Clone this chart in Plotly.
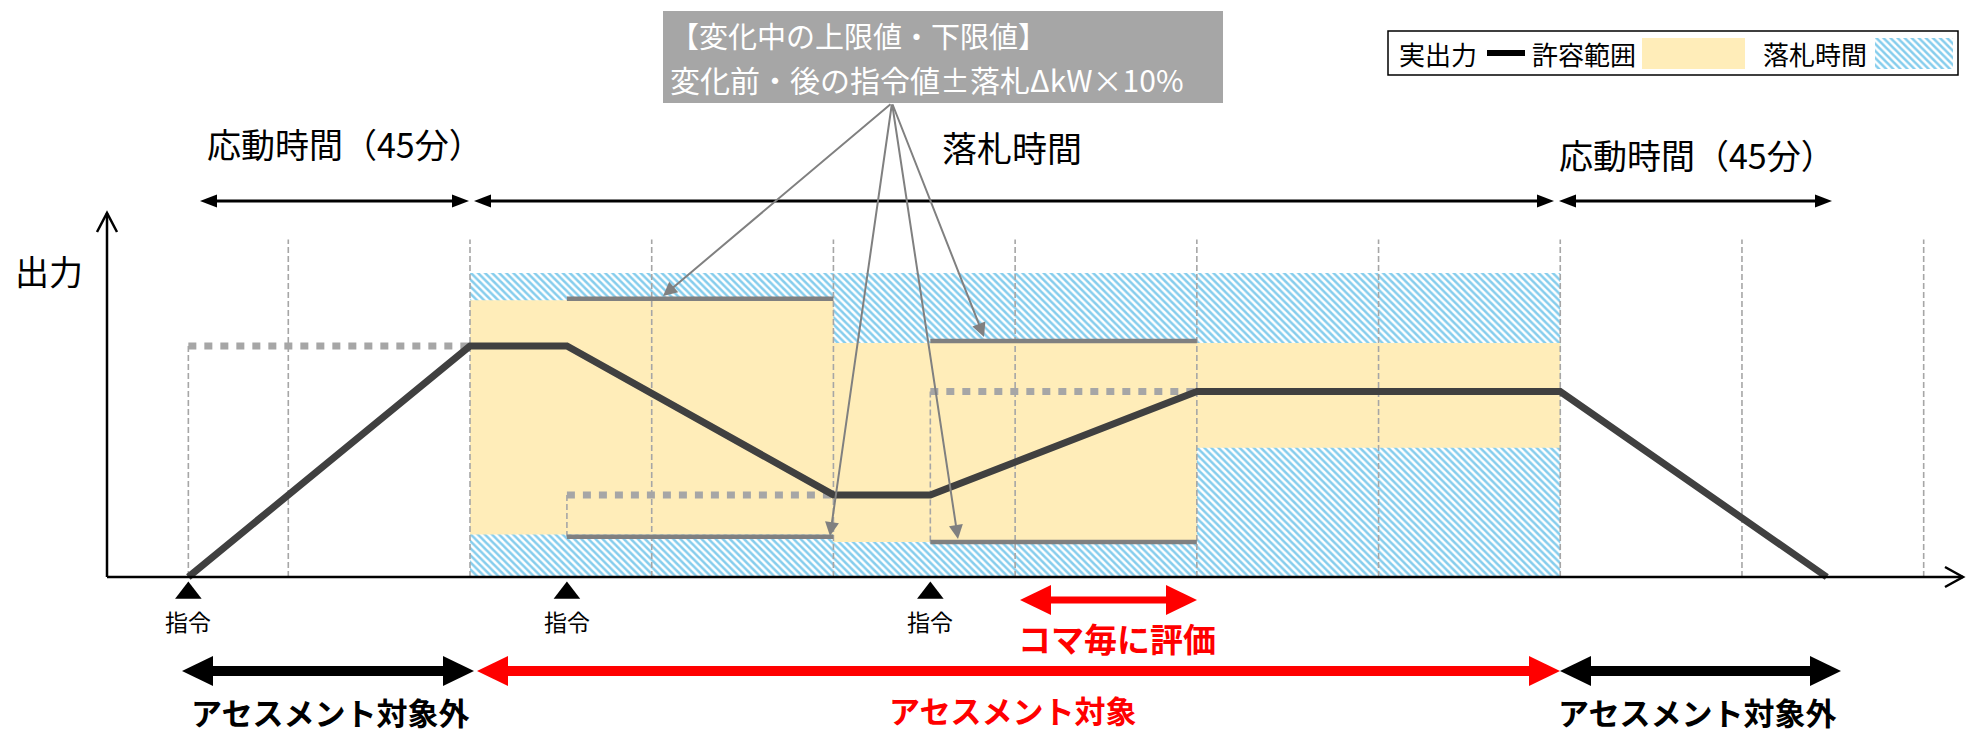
import plotly.graph_objects as go

W, H = 1968, 736

# ---------------- data (minutes from bid start / output units) ----------------
grid_minutes = [-30, 0, 30, 60, 90, 120, 150, 180, 210, 240]
grid_top = 111

output_minutes = [-46.5, 0, 16, 60, 76, 120, 180, 224]
output_kw = [0, 76, 76, 27, 27, 61, 61, 0]

command_minutes = [-46.5, 16, 76]
command_kw = [76, 27, 61]
command_end_minutes = [0, 60, 120]
command_drop_to = [0, 13.2, 11.5]

koma_start = [0, 60, 120]
koma_end = [60, 120, 180]
band_low = [14, 11.5, 42.5]
band_high = [91, 77, 77]

limit_start = [16, 76]
limit_end = [60, 120]
limit_upper = [91.5, 77.6]
limit_lower = [13.2, 11.5]

bid_start, bid_end = 0, 180
bid_kw = 100

# ---------------- page geometry helpers (layout only) ----------------
X0_PX, PX_PER_MIN = 470.0, 6.057
Y0_PX, PX_PER_UNIT = 577.0, 3.04


def tx(px):
    return (px - X0_PX) / PX_PER_MIN


def vy(py):
    return (Y0_PX - py) / PX_PER_UNIT


def px_(px):
    return px / W


def py_(py):
    return 1 - py / H


FONT = "Noto Sans CJK JP"
YELLOW = "#FFEDB9"
HATCH = "#0C9CDB"
GRAY = "#808080"
LGRAY = "#A6A6A6"
PATTERN = dict(shape="\\", fgcolor=HATCH, bgcolor="white", size=5, solidity=0.5)

fig = go.Figure()

# bid period (hatched)
fig.add_trace(go.Scatter(
    x=[bid_start, bid_end, bid_end, bid_start, bid_start],
    y=[0, 0, bid_kw, bid_kw, 0],
    mode="lines", fill="toself", line=dict(width=0), fillcolor="white",
    fillpattern=PATTERN, hoverinfo="skip", showlegend=False))

# tolerance bands
bx, by = [], []
for s, e, lo, hi in zip(koma_start, koma_end, band_low, band_high):
    bx += [s, e, e, s, s, None]
    by += [lo, lo, hi, hi, lo, None]
fig.add_trace(go.Scatter(x=bx, y=by, mode="lines", fill="toself", fillcolor=YELLOW,
                         line=dict(width=0), hoverinfo="skip", showlegend=False))

# grid
gx, gy = [], []
for t in grid_minutes:
    gx += [t, t, None]
    gy += [0, grid_top, None]
fig.add_trace(go.Scatter(x=gx, y=gy, mode="lines",
                         line=dict(color=LGRAY, width=1.6, dash="6px,3px"),
                         hoverinfo="skip", showlegend=False))

# drops from command level
dx, dy = [], []
for t, k, d in zip(command_minutes, command_kw, command_drop_to):
    dx += [t, t, None]
    dy += [k, d, None]
fig.add_trace(go.Scatter(x=dx, y=dy, mode="lines",
                         line=dict(color=LGRAY, width=1.6, dash="6px,3px"),
                         hoverinfo="skip", showlegend=False))

# command levels (dotted)
cx, cy = [], []
for t, e, k in zip(command_minutes, command_end_minutes, command_kw):
    cx += [t, e, None]
    cy += [k, k, None]
fig.add_trace(go.Scatter(x=cx, y=cy, mode="lines",
                         line=dict(color=LGRAY, width=7, dash="8px,8px"),
                         hoverinfo="skip", showlegend=False))

# limits during change
lx, ly = [], []
for s, e, u, l in zip(limit_start, limit_end, limit_upper, limit_lower):
    lx += [s, e, None, s, e, None]
    ly += [u, u, None, l, l, None]
fig.add_trace(go.Scatter(x=lx, y=ly, mode="lines", line=dict(color=GRAY, width=4.5),
                         hoverinfo="skip", showlegend=False))

# actual output
fig.add_trace(go.Scatter(x=output_minutes, y=output_kw, mode="lines",
                         line=dict(color="#404040", width=7),
                         hoverinfo="skip", showlegend=False))

# command markers
fig.add_trace(go.Scatter(x=command_minutes, y=[vy(593)] * len(command_minutes), mode="markers",
                         marker=dict(symbol="triangle-up", size=23, color="black"),
                         hoverinfo="skip", showlegend=False))

# legend hatch swatch
lx0, lx1, ly0, ly1 = tx(1875), tx(1953), vy(69), vy(38)
fig.add_trace(go.Scatter(
    x=[lx0, lx1, lx1, lx0, lx0], y=[ly0, ly0, ly1, ly1, ly0],
    mode="lines", fill="toself", line=dict(width=0), fillcolor="white",
    fillpattern=PATTERN, hoverinfo="skip", showlegend=False))

shapes = []
annotations = []


def pline(x0, y0, x1, y1, color="black", width=2.5):
    shapes.append(dict(type="line", xref="paper", yref="paper",
                       x0=px_(x0), y0=py_(y0), x1=px_(x1), y1=py_(y1),
                       line=dict(color=color, width=width), layer="above"))


def ppath(pts, color, fill=True, width=0):
    d = "M " + " L ".join(f"{px_(a):.6f},{py_(b):.6f}" for a, b in pts)
    if fill:
        d += " Z"
    shapes.append(dict(type="path", xref="paper", yref="paper", path=d,
                       fillcolor=color if fill else "rgba(0,0,0,0)",
                       line=dict(color=color, width=width), layer="above"))


def double_arrow(x0, x1, y, w, hl, hh, color):
    pline(x0 + hl - 1, y, x1 - hl + 1, y, color, w)
    ppath([(x0, y), (x0 + hl, y - hh / 2), (x0 + hl, y + hh / 2)], color)
    ppath([(x1, y), (x1 - hl, y - hh / 2), (x1 - hl, y + hh / 2)], color)


def text(s, x, y, size, color="black", bold=False, xanchor="center"):
    annotations.append(dict(text=("<b>%s</b>" % s) if bold else s,
                            xref="paper", yref="paper", x=px_(x), y=py_(y),
                            xanchor=xanchor, yanchor="middle", showarrow=False,
                            font=dict(family=FONT, size=size, color=color)))


# axes
pline(107, 577, 1963, 577, "black", 2.5)
pline(107, 577, 107, 213, "black", 2.5)
ppath([(97, 232), (107, 213), (117, 232)], "black", fill=False, width=2.5)
ppath([(1945, 567), (1963, 577), (1945, 587)], "black", fill=False, width=2.5)
text("出力", 49, 270, 34)

# top time arrows
double_arrow(200, 469, 201, 3, 17, 13, "black")
double_arrow(474, 1554, 201, 3, 17, 13, "black")
double_arrow(1559, 1832, 201, 3, 17, 13, "black")
text("応動時間（45分）", 345, 143, 34)
text("落札時間", 1012, 146, 35)
text("応動時間（45分）", 1697, 154, 34)

# callout box
shapes.append(dict(type="rect", xref="paper", yref="paper",
                   x0=px_(663), x1=px_(1223), y0=py_(103), y1=py_(11),
                   fillcolor=LGRAY, line=dict(width=0), layer="above"))
text("【変化中の上限値・下限値】", 668, 35, 29, "white", xanchor="left")
text("変化前・後の指令値±落札ΔkW×10%", 668, 79, 30, "white", xanchor="left")
for tipx, tipy in [(663, 296), (830, 536), (958, 539), (984, 337)]:
    annotations.append(dict(text="", x=tx(tipx), y=vy(tipy), xref="x", yref="y",
                            ax=tx(892), ay=vy(103), axref="x", ayref="y",
                            showarrow=True, arrowhead=2, arrowsize=1.4, arrowwidth=2,
                            arrowcolor=GRAY, standoff=0))

# legend
shapes.append(dict(type="rect", xref="paper", yref="paper",
                   x0=px_(1388), x1=px_(1958), y0=py_(75), y1=py_(31),
                   fillcolor="rgba(0,0,0,0)", line=dict(color="black", width=1.5), layer="above"))
text("実出力", 1438, 53, 26)
pline(1487, 53, 1525, 53, "black", 6)
text("許容範囲", 1584, 53, 26)
shapes.append(dict(type="rect", xref="paper", yref="paper",
                   x0=px_(1642), x1=px_(1745), y0=py_(69), y1=py_(38),
                   fillcolor=YELLOW, line=dict(width=0), layer="above"))
text("落札時間", 1815, 53, 26)

# command labels
for t in command_minutes:
    annotations.append(dict(text="指令", x=t, y=vy(621), xref="x", yref="y",
                            showarrow=False, xanchor="center", yanchor="middle",
                            font=dict(family=FONT, size=23, color="black")))

# evaluation arrows
double_arrow(1020, 1197, 600, 7, 31, 30, "#FF0000")
text("コマ毎に評価", 1117, 638, 33, "#FF0000", bold=True)
double_arrow(182, 474, 671, 10, 31, 30, "black")
double_arrow(477, 1560, 671, 10, 31, 30, "#FF0000")
double_arrow(1560, 1841, 671, 10, 31, 30, "black")
text("アセスメント対象外", 330, 711, 31, "black", bold=True)
text("アセスメント対象", 1012, 709, 31, "#FF0000", bold=True)
text("アセスメント対象外", 1697, 711, 31, "black", bold=True)

fig.update_layout(
    width=W, height=H, margin=dict(l=0, r=0, t=0, b=0),
    paper_bgcolor="white", plot_bgcolor="white",
    xaxis=dict(range=[tx(0), tx(W)], visible=False, fixedrange=True),
    yaxis=dict(range=[vy(H), vy(0)], visible=False, fixedrange=True),
    shapes=shapes, annotations=annotations, showlegend=False,
    font=dict(family=FONT),
)

fig.write_html("out.html", config={"displayModeBar": False, "staticPlot": True},
               post_script="document.body.style.margin='0';document.body.style.overflow='hidden';")
